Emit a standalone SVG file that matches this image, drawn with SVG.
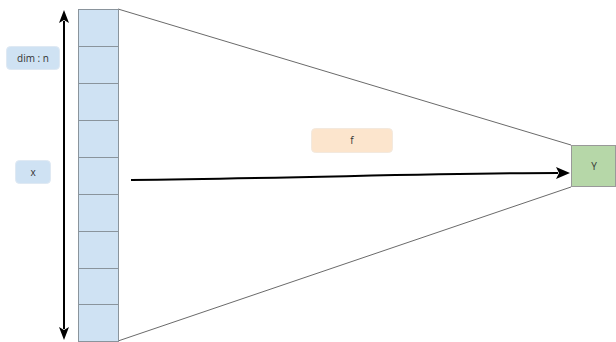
<svg xmlns="http://www.w3.org/2000/svg" width="616" height="342" viewBox="0 0 616 342">
<defs>
<style>
.cell{fill:#cfe2f3;stroke:#8a949c;stroke-width:1}
.lbl{font-family:"Open Sans","Liberation Sans",sans-serif;font-size:10px;fill:#333;text-anchor:middle;dominant-baseline:central}
.line{fill:none;stroke:#444;stroke-width:0.8}
.arr{fill:none;stroke:#000;stroke-width:2}
.head{fill:#000}
</style>
</defs>
<rect width="616" height="342" fill="#ffffff"/>
<g id="connectors">
<line class="line" x1="118" y1="9" x2="571" y2="145"/>
<line class="line" x1="118" y1="341" x2="571" y2="187"/>
<line x1="64" y1="21" x2="64" y2="329" stroke="#000" stroke-width="2"/>
<path class="head" d="M64,10 L59,23 L64,20 L69,23 Z"/>
<path class="head" d="M64,340 L59,327 L64,330 L69,327 Z"/>
<path class="arr" d="M131,180 C300,178 450,173 558,173"/>
<path class="head" d="M570,173 L556,167 L559,173 L556,179 Z"/>
</g>
<g id="column">
<rect class="cell" x="78.5" y="9.5" width="40" height="37"/>
<rect class="cell" x="78.5" y="46.5" width="40" height="37"/>
<rect class="cell" x="78.5" y="83.5" width="40" height="37"/>
<rect class="cell" x="78.5" y="120.5" width="40" height="37"/>
<rect class="cell" x="78.5" y="157.5" width="40" height="37"/>
<rect class="cell" x="78.5" y="194.5" width="40" height="37"/>
<rect class="cell" x="78.5" y="231.5" width="40" height="37"/>
<rect class="cell" x="78.5" y="268.5" width="40" height="36"/>
<rect class="cell" x="78.5" y="304.5" width="40" height="37"/>
</g>
<g id="dim">
<rect x="6.5" y="46.5" width="53" height="23" rx="4" fill="#cfe2f3" stroke="#dfe9f3"/>
<text class="lbl" x="33" y="58">dim : n</text>
</g>
<g id="x">
<rect x="15.5" y="160.5" width="35" height="23" rx="4" fill="#cfe2f3" stroke="#dfe9f3"/>
<text class="lbl" x="33" y="172">x</text>
</g>
<g id="f">
<rect x="311.5" y="128.5" width="81" height="24" rx="4" fill="#fce5cd" stroke="#f3e9de"/>
<text class="lbl" x="352" y="140">f</text>
</g>
<g id="Y">
<rect x="571.5" y="145.5" width="44" height="41" fill="#b6d7a8" stroke="#999"/>
<text class="lbl" x="594" y="166">Y</text>
</g>
</svg>
